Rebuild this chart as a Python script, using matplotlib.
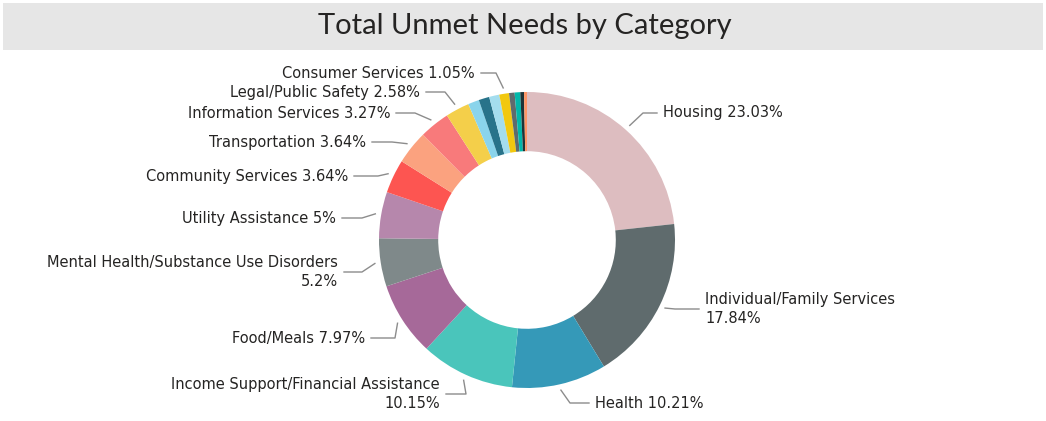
import matplotlib
matplotlib.use("Agg")
import matplotlib.pyplot as plt
from matplotlib.patches import Rectangle
import numpy as np

# category shares (%), clockwise from 12 o'clock
categories = [
    "Housing", "Individual/Family Services", "Health",
    "Income Support/Financial Assistance", "Food/Meals",
    "Mental Health/Substance Use Disorders", "Utility Assistance",
    "Community Services", "Transportation", "Information Services",
    "Legal/Public Safety", "Other A", "Other B", "Other C",
    "Consumer Services", "Other D", "Other E", "Other F", "Other G",
]
shares = [23.03, 17.84, 10.21, 10.15, 7.97, 5.2, 5.0, 3.64, 3.64, 3.27,
          2.58, 1.2, 1.15, 1.1, 1.05, 0.6, 0.6, 0.4, 0.32]
colors = ["#DDBDC0", "#5F6B6D", "#3599B8", "#4AC5BB", "#A66999",
          "#7F898A", "#B687AC", "#FD5551", "#FBA27F", "#F87A7B",
          "#F4CF4A", "#8AD4EB", "#28738A", "#A4DDEE", "#F2C80F",
          "#5F6B6D", "#01B8AA", "#1E3337", "#FE9666"]

# label text per slice (None = unlabeled)
label_text = [
    "Housing 23.03%", "Individual/Family Services\n17.84%", "Health 10.21%",
    "Income Support/Financial Assistance\n10.15%", "Food/Meals 7.97%",
    "Mental Health/Substance Use Disorders\n5.2%", "Utility Assistance 5%",
    "Community Services 3.64%", "Transportation 3.64%",
    "Information Services 3.27%", "Legal/Public Safety 2.58%",
    None, None, None, "Consumer Services 1.05%", None, None, None, None,
]
# (text x, text y from top, elbow x) in pixels
label_pos = [
    (663, 113, 643), (705, 309, 675), (595, 403, 570), (440, 394, 466),
    (365, 338, 395), (338, 272, 362), (336, 218, 362), (348, 176, 378),
    (366, 142, 392), (390, 113, 415), (420, 92, 445),
    None, None, None, (475, 73, 496), None, None, None, None,
]

W, H = 1046, 421
cx, cy, R = 527, 240, 148

fig = plt.figure(figsize=(W / 100, H / 100), dpi=100)
ax = fig.add_axes([0, 0, 1, 1])

def ty(y):
    return H - y

ax.add_patch(Rectangle((3, ty(50)), W - 6, 47, facecolor="#E6E6E6",
                       edgecolor="none"))
ax.text(525, ty(26), "Total Unmet Needs by Category", ha="center",
        va="center", fontsize=21, family="Lato", color="#252423")

wedges, _ = ax.pie(shares, colors=colors, startangle=90, counterclock=False,
                   radius=R, center=(cx, ty(cy)),
                   wedgeprops=dict(width=0.4 * R, edgecolor="none"))

for w, txt, pos in zip(wedges, label_text, label_pos):
    if txt is None:
        continue
    ang = np.deg2rad((w.theta1 + w.theta2) / 2)
    x0 = cx + 1.04 * R * np.cos(ang)
    y0 = ty(cy) + 1.04 * R * np.sin(ang)
    tx, tyy, ex = pos
    right = tx > ex
    end = tx - 6 if right else tx + 6
    ax.plot([x0, ex, end], [y0, ty(tyy), ty(tyy)], color="#8C8C8C", lw=1)
    ax.text(tx, ty(tyy), txt, ha="left" if right else "right", va="center",
            fontsize=10.5, family="DejaVu Sans", color="#252423",
            multialignment="left" if right else "right", linespacing=1.4)

ax.set_xlim(0, W)
ax.set_ylim(0, H)
ax.set_aspect("equal")
ax.axis("off")

fig.savefig("out.png", dpi=100)
